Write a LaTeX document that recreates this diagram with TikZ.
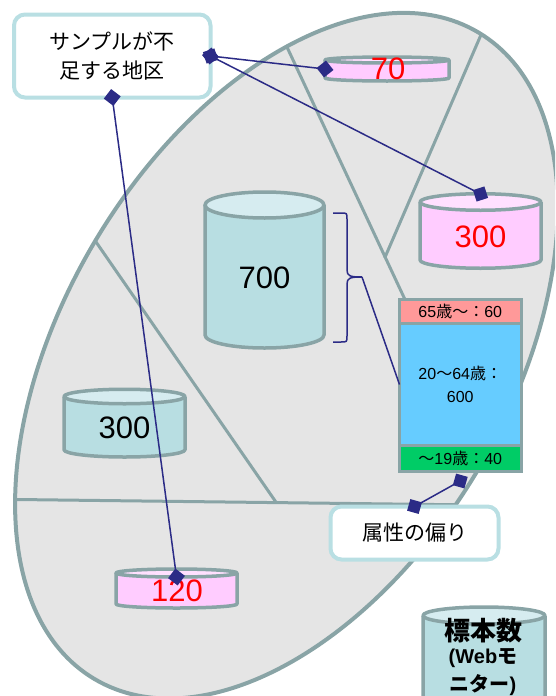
\documentclass[tikz,border=0pt]{standalone}
\usepackage{fontspec}
\setmainfont{Liberation Sans}
\newfontfamily\jp{Noto Sans CJK JP}
\usetikzlibrary{arrows.meta,calc}

\definecolor{ellfill}{RGB}{229,229,229}
\definecolor{grayline}{RGB}{137,164,166}
\definecolor{tealbody}{RGB}{184,222,226}
\definecolor{tealtop}{RGB}{214,236,240}
\definecolor{pinkbody}{RGB}{255,204,255}
\definecolor{pinktop}{RGB}{255,224,255}
\definecolor{navy}{RGB}{43,43,134}
\definecolor{callborder}{RGB}{185,223,227}
\definecolor{agered}{RGB}{255,153,153}
\definecolor{ageblue}{RGB}{102,204,255}
\definecolor{agegreen}{RGB}{0,204,102}

% #1 cx, #2 top ellipse centre y, #3 bottom ellipse centre y, #4 half width, #5 ry, #6 body colour, #7 top colour
\newcommand\drawcyl[7]{%
  \fill[#6] (#1-#4,#2) -- (#1-#4,#3) arc[start angle=180,end angle=0,x radius=#4,y radius=#5] -- (#1+#4,#2) -- cycle;
  \fill[#7] (#1,#2) ellipse[x radius=#4,y radius=#5];
  \draw[cylline] (#1-#4,#2) -- (#1-#4,#3) arc[start angle=180,end angle=0,x radius=#4,y radius=#5] -- (#1+#4,#2);
  \draw[cylline] (#1,#2) ellipse[x radius=#4,y radius=#5];
}
\newcommand\sai{{\jp 歳}}
\newcommand\wtil{{\jp ～}}
\newcommand\wcol{{\jp ：}}

\begin{document}
\begin{tikzpicture}[x=1pt,y=-1pt,
  part/.style={draw=grayline, line width=3pt},
  ellborder/.style={draw=grayline, line width=4pt},
  bigell/.style={rotate around={59.3:(286.4,355.7)}},
  cylline/.style={draw=grayline, line width=3.5pt, line join=round},
  hidden/.style={inner sep=0pt, outer sep=0pt, draw=none},
  numlabel/.style={font=\fontsize{31}{31}\selectfont, inner sep=0pt},
  rednum/.style={numlabel, text=red},
  callout/.style={draw=callborder, line width=4pt, fill=white, rounded corners=11pt, inner sep=0pt, outer sep=0pt, align=center, font=\jp\fontsize{21}{29}\selectfont},
  agecell/.style={draw=grayline, line width=3pt, inner sep=0pt, outer sep=0pt, minimum width=121.5pt, font=\fontsize{16}{23}\selectfont, align=center},
  conn/.style={draw=navy, line width=1.5pt, {Diamond[length=17pt,width=17pt]}-{Diamond[length=17pt,width=17pt]}, shorten <=-8.5pt, shorten >=-8.5pt},
  navyline/.style={draw=navy, line width=1.5pt},
  bracestyle/.style={draw=navy, line width=1.5pt}
]
\useasboundingbox (0,0) rectangle (555,696);

% big tilted ellipse with partition lines
\begin{scope}
  \clip (0,0) rectangle (555,696);
  \fill[ellfill, bigell] (286.4,355.7) ellipse[x radius=376, y radius=223];
  \begin{scope}
    \clip[bigell] (286.4,355.7) ellipse[x radius=376, y radius=223];
    \draw[part] (265,0) -- (508,520);
    \draw[part] (496,0) -- (384.7,258);
    \draw[part] (67,200) -- (276.3,502.6);
    \draw[part] (0,499.3) -- (560,506);
  \end{scope}
  \draw[ellborder, bigell] (286.4,355.7) ellipse[x radius=376, y radius=223];
\end{scope}

% cylinders
\drawcyl{264.5}{205}{335}{59.5}{13}{tealbody}{tealtop}
\node[hidden, minimum width=119pt, minimum height=156pt] (c700) at (264.5,270) {};
\node[numlabel] (c700t) at (264.5,278) {700};

\drawcyl{124.5}{396.5}{449.75}{60.5}{7.25}{tealbody}{tealtop}
\node[hidden, minimum width=121pt, minimum height=68pt] (c300a) at (124.5,423) {};
\node[numlabel] (c300at) at (124.5,428) {300};

\drawcyl{387}{60}{78}{62}{3}{pinkbody}{pinktop}
\node[hidden, minimum width=124pt, minimum height=24pt] (c70) at (387,69) {};
\node[rednum] (c70t) at (388,69) {70};

\drawcyl{480.5}{202}{260}{60.5}{8.25}{pinkbody}{pinktop}
\node[hidden, minimum width=121pt, minimum height=74pt] (c300b) at (480.5,231) {};
\node[rednum] (c300bt) at (480.5,237) {300};

\drawcyl{176.5}{573}{604}{60.5}{4}{pinkbody}{pinktop}
\node[hidden, minimum width=121pt, minimum height=39pt] (c120) at (176.5,588.5) {};
\node[rednum] (c120t) at (177,591) {120};
\coordinate (c120in) at (176.5,577);

\drawcyl{484}{615.5}{730}{61}{8.5}{tealbody}{tealtop}
\node[hidden, minimum width=122pt, minimum height=90pt] (cnum) at (484,652) {};
\node[inner sep=0pt, font=\jp\bfseries\fontsize{26}{26}\selectfont] (cnum1) at (483,631) {標本数};
\node[inner sep=0pt, font=\bfseries\fontsize{20}{20}\selectfont] (cnum2) at (483,658) {(Web{\jp モ}};
\node[inner sep=0pt, font=\bfseries\fontsize{20}{20}\selectfont] (cnum3) at (483,685) {{\jp ニター})};

% age breakdown box
\node[agecell, fill=agered, minimum height=24pt] (ageR) at (460.25,311.3) {65\sai\wtil\wcol 60};
\node[agecell, fill=ageblue, minimum height=122.5pt] (ageB) at (460.25,384.55) {20\wtil 64\sai\wcol\\600};
\node[agecell, fill=agegreen, minimum height=25.2pt] (ageG) at (460.25,458.4) {\wtil 19\sai\wcol 40};
\coordinate (agelow) at ($(ageG.south)+(0,10)$);

% brace and its connector
\coordinate (bt) at (362,277);
\draw[bracestyle] (333,213) -- (341,213) .. controls (347,213) and (347,213) .. (347,219)
  -- (347,270) .. controls (347,276) and (350,277) .. (bt);
\draw[bracestyle] (333,342) -- (341,342) .. controls (347,342) and (347,342) .. (347,336)
  -- (347,284) .. controls (347,278) and (350,277) .. (bt);
\draw[navyline] (bt) -- (ageB.west);

% callouts
\node[callout, minimum width=196.5pt, minimum height=83pt] (box1) at (112.25,56) {サンプルが不\\足する地区};
\node[callout, minimum width=168pt, minimum height=53pt] (box2) at (414.5,533) {属性の偏り};

% connectors
\draw[conn] (box1.east) -- (c70.west);
\draw[conn] (box1.east) -- (c300b.north);
\draw[conn] (box1.south) -- (c120in);
\draw[conn] (box2.north) -- (agelow);
\end{tikzpicture}
\end{document}
